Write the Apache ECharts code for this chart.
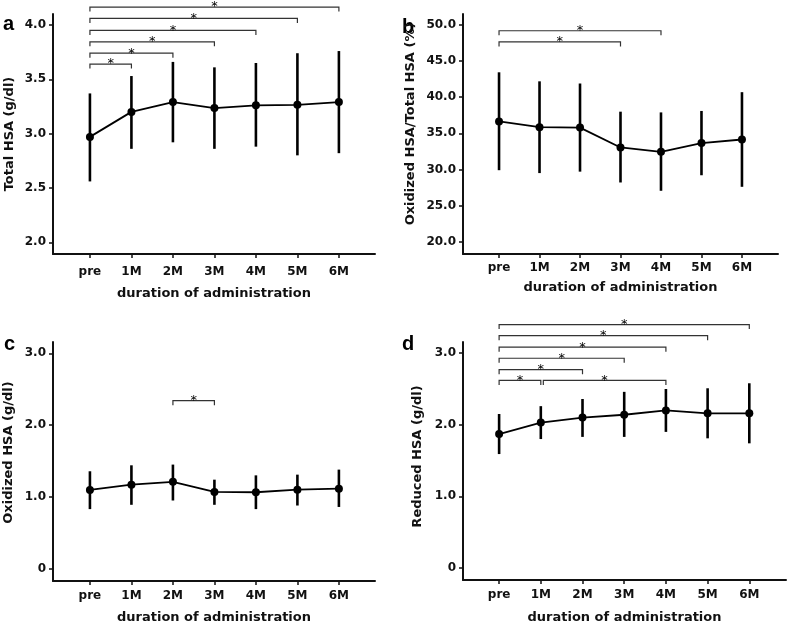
<!DOCTYPE html>
<html>
<head>
<meta charset="utf-8">
<script src="https://cdn.jsdelivr.net/npm/echarts@6/dist/echarts.min.js"></script>
<style>
html,body{margin:0;padding:0;background:#fff;}
#chart{width:787px;height:625px;}
</style>
</head>
<body>
<div id="chart"></div>
<script>
// ---- data ----
var categories = ['pre', '1M', '2M', '3M', '4M', '5M', '6M'];
var xAxisTitle = 'duration of administration';

// panel a: Total HSA (g/dl)
var aMean  = [2.97, 3.20, 3.29, 3.235, 3.26, 3.265, 3.29];
var aUpper = [3.37, 3.53, 3.66, 3.61, 3.65, 3.74, 3.76];
var aLower = [2.56, 2.86, 2.92, 2.86, 2.88, 2.80, 2.82];
var aBrackets = [[0, 1, 3.64], [0, 2, 3.74], [0, 3, 3.845], [0, 4, 3.95], [0, 5, 4.06], [0, 6, 4.165]];
var aTicks = [2.0, 2.5, 3.0, 3.5, 4.0];

// panel b: Oxidized HSA / Total HSA (%)
var bMean  = [36.65, 35.85, 35.8, 33.05, 32.45, 33.65, 34.15];
var bUpper = [43.45, 42.2, 41.9, 38.0, 37.9, 38.1, 40.7];
var bLower = [29.9, 29.5, 29.7, 28.2, 27.05, 29.2, 27.6];
var bBrackets = [[0, 3, 47.65], [0, 4, 49.2]];
var bTicks = [20, 25, 30, 35, 40, 45, 50];

// panel c: Oxidized HSA (g/dl)
var cMean  = [1.097, 1.17, 1.21, 1.07, 1.065, 1.10, 1.115];
var cUpper = [1.357, 1.44, 1.45, 1.24, 1.30, 1.31, 1.38];
var cLower = [0.83, 0.89, 0.95, 0.89, 0.83, 0.88, 0.86];
var cBrackets = [[2, 3, 2.34]];
var cTicks = [0, 1, 2, 3];

// panel d: Reduced HSA (g/dl)
var dMean  = [1.87, 2.03, 2.10, 2.14, 2.20, 2.16, 2.16];
var dUpper = [2.15, 2.26, 2.36, 2.46, 2.50, 2.51, 2.58];
var dLower = [1.59, 1.80, 1.83, 1.83, 1.90, 1.81, 1.74];
var dBrackets = [[0, 1, 2.62], [1.06, 4, 2.62], [0, 2, 2.77], [0, 3, 2.93], [0, 4, 3.085], [0, 5, 3.245], [0, 6, 3.40]];
var dTicks = [0, 1, 2, 3];

// ---- chart ----
var FONT = 'DejaVu Sans';
var catIdx = categories.map(function (c, i) { return i; });

var panels = [
  {grid: {left: 53, right: 412, top: 14, bottom: 371}, xmin: -0.89, xmax: 6.87, ymin: 1.892, ymax: 4.101,
   ticks: aTicks, fmt: function (v) { return v.toFixed(1); }, yname: 'Total HSA (g/dl)', ynameGap: 37, ypad: [0, 0, 0, 0],
   xLabelMargin: 12, xNameGap: 33, mean: aMean, upper: aUpper, lower: aLower, brackets: aBrackets},
  {grid: {left: 463, right: 9, top: 14, bottom: 371}, xmin: -0.89, xmax: 6.89, ymin: 18.30, ymax: 51.52,
   ticks: bTicks, fmt: function (v) { return v.toFixed(1); }, yname: 'Oxidized HSA/Total HSA (%)', ynameGap: 46, ypad: [0, 0, 0, 20],
   xLabelMargin: 8, xNameGap: 27, mean: bMean, upper: bUpper, lower: bLower, brackets: bBrackets},
  {grid: {left: 53, right: 412, top: 342, bottom: 44}, xmin: -0.89, xmax: 6.87, ymin: -0.171, ymax: 3.157,
   ticks: cTicks, fmt: function (v) { return v === 0 ? '0' : v.toFixed(1); }, yname: 'Oxidized HSA (g/dl)', ynameGap: 38, ypad: [0, 0, 0, 18],
   xLabelMargin: 9, xNameGap: 30, mean: cMean, upper: cUpper, lower: cLower, brackets: cBrackets},
  {grid: {left: 463, right: 1, top: 342, bottom: 44}, xmin: -0.866, xmax: 6.88, ymin: -0.171, ymax: 3.157,
   ticks: dTicks, fmt: function (v) { return v === 0 ? '0' : v.toFixed(1); }, yname: 'Reduced HSA (g/dl)', ynameGap: 39, ypad: [0, 0, 0, 9],
   xLabelMargin: 9, xNameGap: 31, mean: dMean, upper: dUpper, lower: dLower, brackets: dBrackets}
];

var grids = [], xAxes = [], yAxes = [], series = [];

panels.forEach(function (p, k) {
  grids.push(p.grid);
  xAxes.push({
    gridIndex: k, type: 'value', min: p.xmin, max: p.xmax,
    axisLine: {show: true, onZero: false, lineStyle: {color: '#111', width: 2}},
    splitLine: {show: false},
    axisTick: {show: true, customValues: catIdx, length: 4, lineStyle: {color: '#111', width: 1.5}},
    axisLabel: {customValues: catIdx, margin: p.xLabelMargin, fontFamily: FONT, fontSize: 12, fontWeight: 'bold', color: '#111',
      formatter: function (v) { return categories[Math.round(v)]; }},
    name: xAxisTitle, nameLocation: 'middle', nameGap: p.xNameGap,
    nameTextStyle: {fontFamily: FONT, fontSize: 13, fontWeight: 'bold', color: '#111'}
  });
  yAxes.push({
    gridIndex: k, type: 'value', min: p.ymin, max: p.ymax,
    axisLine: {show: true, onZero: false, lineStyle: {color: '#111', width: 2}},
    splitLine: {show: false},
    axisTick: {show: true, customValues: p.ticks, length: 4, lineStyle: {color: '#111', width: 1.5}},
    axisLabel: {customValues: p.ticks, margin: 7, fontFamily: FONT, fontSize: 12, fontWeight: 'bold', color: '#111',
      formatter: p.fmt},
    name: p.yname, nameLocation: 'middle', nameGap: p.ynameGap,
    nameTextStyle: {fontFamily: FONT, fontSize: 13, fontWeight: 'bold', color: '#111', padding: p.ypad}
  });
  // error bars
  series.push({
    type: 'custom', xAxisIndex: k, yAxisIndex: k, z: 1, silent: true,
    data: catIdx.map(function (i) { return [i, p.lower[i], p.upper[i]]; }),
    renderItem: function (params, api) {
      var a = api.coord([api.value(0), api.value(1)]);
      var b = api.coord([api.value(0), api.value(2)]);
      return {type: 'line', shape: {x1: a[0], y1: a[1], x2: b[0], y2: b[1]},
        style: {stroke: '#000', lineWidth: 2.6}};
    }
  });
  // mean line
  series.push({
    type: 'line', xAxisIndex: k, yAxisIndex: k, z: 3, silent: true,
    data: catIdx.map(function (i) { return [i, p.mean[i]]; }),
    symbol: 'circle', symbolSize: 8,
    lineStyle: {color: '#000', width: 1.8},
    itemStyle: {color: '#000'}
  });
  // significance brackets
  series.push({
    type: 'custom', xAxisIndex: k, yAxisIndex: k, z: 4, clip: false, silent: true,
    data: p.brackets,
    renderItem: function (params, api) {
      var a = api.coord([api.value(0), api.value(2)]);
      var b = api.coord([api.value(1), api.value(2)]);
      var h = 4.5;
      return {type: 'group', children: [
        {type: 'polyline', shape: {points: [[a[0], a[1] + h], [a[0], a[1]], [b[0], b[1]], [b[0], b[1] + h]]},
          style: {stroke: '#333', lineWidth: 1.2, fill: null}},
        {type: 'text', x: (a[0] + b[0]) / 2, y: a[1] + 6.5,
          style: {text: '*', fontFamily: FONT, fontSize: 13, fill: '#000', align: 'center', verticalAlign: 'bottom'}}
      ]};
    }
  });
});

var letters = [
  {t: 'a', x: 3, y: 14}, {t: 'b', x: 402, y: 17}, {t: 'c', x: 4, y: 334}, {t: 'd', x: 402, y: 334}
];

var chart = echarts.init(document.getElementById('chart'), null, {renderer: 'canvas'});
chart.setOption({
  animation: false,
  backgroundColor: '#fff',
  textStyle: {fontFamily: FONT},
  grid: grids,
  xAxis: xAxes,
  yAxis: yAxes,
  series: series,
  graphic: letters.map(function (l) {
    return {type: 'text', x: l.x, y: l.y, style: {text: l.t, fontFamily: 'Liberation Sans', fontSize: 20, fontWeight: 'bold',
      fill: '#000', verticalAlign: 'alphabetic'}};
  })
});
</script>
</body>
</html>
